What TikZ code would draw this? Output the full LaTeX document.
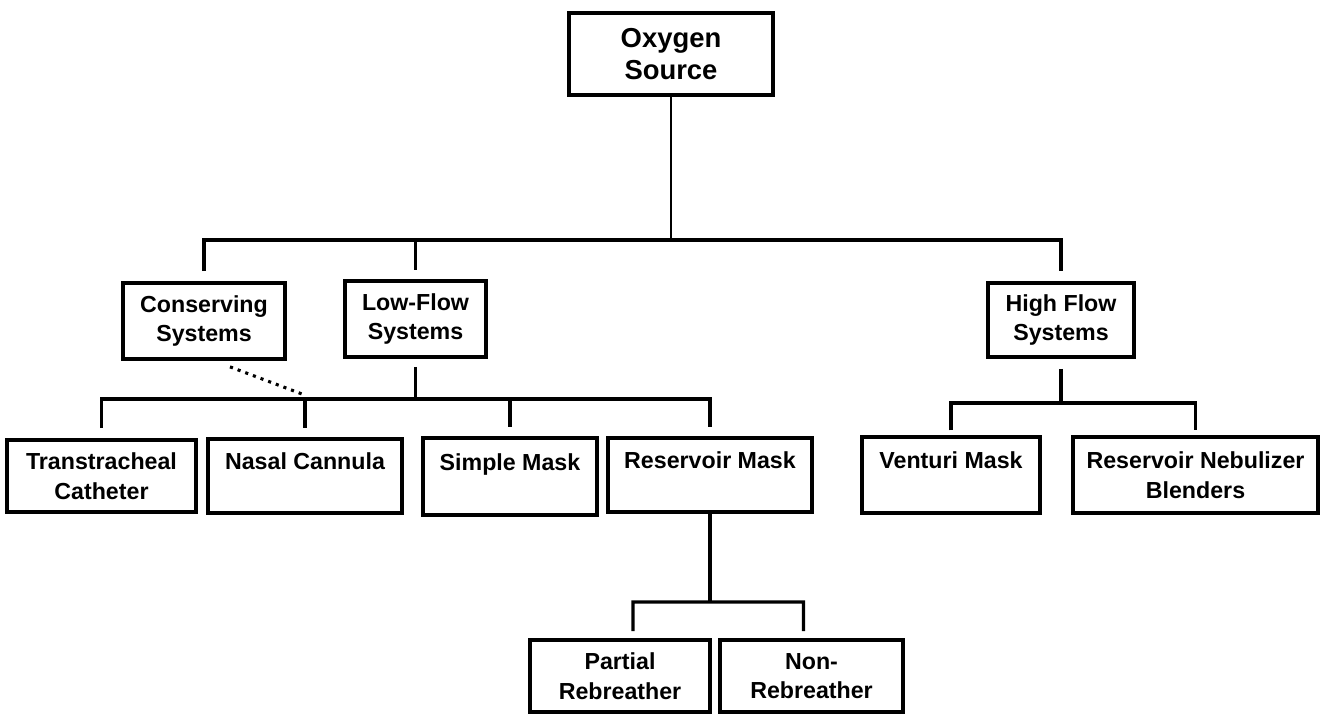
\documentclass[tikz,border=0pt]{standalone}
\usepackage{fontspec}
\setmainfont{Liberation Sans}
\usepackage{tikz}

\begin{document}
\begin{tikzpicture}[x=0.025cm, y=-0.025cm,
    box/.style={draw, line width=2.6pt, align=center, inner sep=0pt,
      font=\fontsize{16.5}{21}\selectfont\bfseries},
    link/.style={line width=2.2pt},
    dots/.style={line width=2.2pt, dash pattern=on 2.2pt off 3.6pt}]
    \useasboundingbox (0,0) rectangle (1332,715);

    % Source
    \node[box, minimum width=5.1cm, minimum height=2.05cm,
      font=\fontsize{19.5}{22.5}\selectfont\bfseries] (src) at (671,54) {Oxygen\\Source};

    % Systems
    \node[box, minimum width=4.05cm, minimum height=1.9cm] (cons) at (204,321) {Conserving\\Systems};
    \node[box, minimum width=3.525cm, minimum height=1.9cm] (low) at (415.5,319) {Low-Flow\\Systems};
    \node[box, minimum width=3.65cm, minimum height=1.85cm] (high) at (1061,320) {High Flow\\Systems};

    % Devices
    \node[box, minimum width=4.725cm, minimum height=1.8cm] (trans) at (101.5,476) {Transtracheal\\Catheter};
    \node[box, minimum width=4.85cm, minimum height=1.85cm] (nasal) at (305,476) {Nasal Cannula\\~};
    \node[box, minimum width=4.35cm, minimum height=1.925cm] (simple) at (510,476.5) {Simple Mask\\~};
    \node[box, minimum width=5.1cm, minimum height=1.85cm] (resmask) at (710,475) {Reservoir Mask\\~};
    \node[box, minimum width=4.45cm, minimum height=1.9cm] (venturi) at (951,475) {Venturi Mask\\~};
    \node[box, minimum width=6.125cm, minimum height=1.9cm] (nebul) at (1195.5,475) {Reservoir Nebulizer\\Blenders};
    \node[box, minimum width=4.5cm, minimum height=1.8cm] (partial) at (620,676) {Partial\\Rebreather};
    \node[box, minimum width=4.575cm, minimum height=1.8cm] (nonre) at (811.5,676) {Non-\\Rebreather};

    % Bars
    \coordinate (topbar) at (0,240);
    \coordinate (lowbar) at (0,399);
    \coordinate (highbar) at (0,403);
    \coordinate (resbar) at (0,602);

    % Trunk
    \draw[link, line width=1.9pt] (src.south) -- (src.south |- topbar);
    \draw[link] ([yshift=0.25cm]cons.north) -- (cons.north |- topbar) -- (high.north |- topbar) -- ([yshift=0.25cm]high.north);
    \draw[link] (low.north |- topbar) -- ([yshift=0.22cm]low.north);

    % Low flow branch
    \draw[link] ([yshift=-0.2cm]low.south) -- (low.south |- lowbar);
    \draw[link] ([yshift=0.25cm]trans.north) -- (trans.north |- lowbar) -- (resmask.north |- lowbar) -- ([yshift=0.22cm]resmask.north);
    \coordinate (nasaltop) at (nasal.north |- lowbar);
    \draw[link] (nasaltop) -- ([yshift=0.22cm]nasal.north);
    \draw[link] (simple.north |- lowbar) -- ([yshift=0.22cm]simple.north);
    \draw[dots] ([shift={(26,6)}]cons.south) -- ([shift={(-3,-5)}]nasaltop);

    % High flow branch
    \draw[link] ([yshift=-0.25cm]high.south) -- (high.south |- highbar);
    \draw[link] ([yshift=0.12cm]venturi.north) -- (venturi.north |- highbar) -- (nebul.north |- highbar) -- ([yshift=0.12cm]nebul.north);

    % Reservoir mask branch
    \draw[link] (resmask.south) -- (resmask.south |- resbar);
    \draw[link] ([shift={(13,-7)}]partial.north) -- ([xshift=0.325cm]partial.north |- resbar) -- ([xshift=-0.2cm]nonre.north |- resbar) -- ([shift={(-8,-7)}]nonre.north);

\end{tikzpicture}
\end{document}
